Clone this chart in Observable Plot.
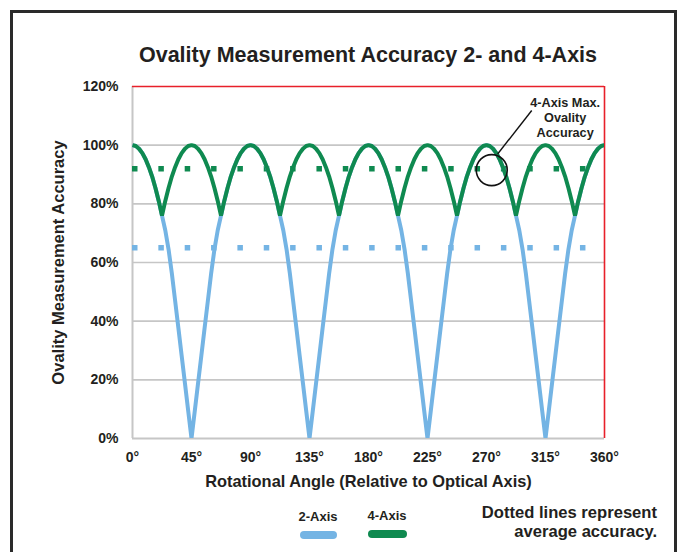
<!DOCTYPE html>
<html>
<head>
<meta charset="utf-8">
<script src="https://cdn.jsdelivr.net/npm/d3@7"></script>
<script src="https://cdn.jsdelivr.net/npm/@observablehq/plot@0.6"></script>
<style>
  html, body { margin: 0; padding: 0; background: #fff; }
  body { width: 681px; height: 552px; overflow: hidden; position: relative;
         font-family: "Liberation Sans", Arial, sans-serif; font-weight: bold; color: #231f20; }
  #frame { position: absolute; left: 10px; top: 10px; width: 661px; height: 620px;
           border: 3px solid #2a2a2a; box-sizing: content-box; }
  #title { position: absolute; left: 0; width: 736px; top: 42px; text-align: center;
           font-size: 21.5px; line-height: 26px; white-space: nowrap; }
  #chart { position: absolute; left: 0; top: 0; }
  .leg { position: absolute; font-size: 13px; text-align: center; width: 60px; line-height: 14px; }
  .sw { position: absolute; height: 8px; border-radius: 4px; }
  #note { position: absolute; right: 24px; top: 504px; text-align: right; font-size: 16.6px; line-height: 18.5px; white-space: nowrap; }
</style>
</head>
<body>
<div id="frame"></div>
<div id="title">Ovality Measurement Accuracy 2- and 4-Axis</div>
<div id="chart"></div>
<div class="leg" style="left:288px; top:510px;">2-Axis</div>
<div class="sw" style="left:300px; top:531px; width:37px; background:#74b4e4;"></div>
<div class="leg" style="left:357px; top:509px;">4-Axis</div>
<div class="sw" style="left:368px; top:530px; width:39px; background:#0f8a50;"></div>
<div id="note">Dotted lines represent<br>average accuracy.</div>
<script>
// Rotational angle (degrees)
const angles = [
  0,2.5,5,7.5,10,12.5,15,17.5,20,22.5,25,27.5,30,32.5,35,37.5,40,42.5,
  45,47.5,50,52.5,55,57.5,60,62.5,65,67.5,70,72.5,75,77.5,80,82.5,85,87.5,
  90,92.5,95,97.5,100,102.5,105,107.5,110,112.5,115,117.5,120,122.5,125,127.5,130,132.5,
  135,137.5,140,142.5,145,147.5,150,152.5,155,157.5,160,162.5,165,167.5,170,172.5,175,177.5,
  180,182.5,185,187.5,190,192.5,195,197.5,200,202.5,205,207.5,210,212.5,215,217.5,220,222.5,
  225,227.5,230,232.5,235,237.5,240,242.5,245,247.5,250,252.5,255,257.5,260,262.5,265,267.5,
  270,272.5,275,277.5,280,282.5,285,287.5,290,292.5,295,297.5,300,302.5,305,307.5,310,312.5,
  315,317.5,320,322.5,325,327.5,330,332.5,335,337.5,340,342.5,345,347.5,350,352.5,355,357.5,
  360
];
// 2-Axis accuracy (%)
const twoAxis = [
  100,99.7,98.8,97.3,95.2,92.5,89.3,85.4,81,76,71,64.5,56.3,47,37.7,28.2,18.8,9.4,
  0,9.4,18.8,28.2,37.7,47,56.3,64.5,71,76,81,85.4,89.3,92.5,95.2,97.3,98.8,99.7,
  100,99.7,98.8,97.3,95.2,92.5,89.3,85.4,81,76,71,64.5,56.3,47,37.7,28.2,18.8,9.4,
  0,9.4,18.8,28.2,37.7,47,56.3,64.5,71,76,81,85.4,89.3,92.5,95.2,97.3,98.8,99.7,
  100,99.7,98.8,97.3,95.2,92.5,89.3,85.4,81,76,71,64.5,56.3,47,37.7,28.2,18.8,9.4,
  0,9.4,18.8,28.2,37.7,47,56.3,64.5,71,76,81,85.4,89.3,92.5,95.2,97.3,98.8,99.7,
  100,99.7,98.8,97.3,95.2,92.5,89.3,85.4,81,76,71,64.5,56.3,47,37.7,28.2,18.8,9.4,
  0,9.4,18.8,28.2,37.7,47,56.3,64.5,71,76,81,85.4,89.3,92.5,95.2,97.3,98.8,99.7,
  100
];
// 4-Axis accuracy (%)
const fourAxis = [
  100,99.7,98.8,97.3,95.2,92.5,89.3,85.4,81,76,81,85.4,89.3,92.5,95.2,97.3,98.8,99.7,
  100,99.7,98.8,97.3,95.2,92.5,89.3,85.4,81,76,81,85.4,89.3,92.5,95.2,97.3,98.8,99.7,
  100,99.7,98.8,97.3,95.2,92.5,89.3,85.4,81,76,81,85.4,89.3,92.5,95.2,97.3,98.8,99.7,
  100,99.7,98.8,97.3,95.2,92.5,89.3,85.4,81,76,81,85.4,89.3,92.5,95.2,97.3,98.8,99.7,
  100,99.7,98.8,97.3,95.2,92.5,89.3,85.4,81,76,81,85.4,89.3,92.5,95.2,97.3,98.8,99.7,
  100,99.7,98.8,97.3,95.2,92.5,89.3,85.4,81,76,81,85.4,89.3,92.5,95.2,97.3,98.8,99.7,
  100,99.7,98.8,97.3,95.2,92.5,89.3,85.4,81,76,81,85.4,89.3,92.5,95.2,97.3,98.8,99.7,
  100,99.7,98.8,97.3,95.2,92.5,89.3,85.4,81,76,81,85.4,89.3,92.5,95.2,97.3,98.8,99.7,
  100
];
// Average accuracy (%)
const avgTwoAxis = 65;
const avgFourAxis = 92;
// Tick values
const xTicks = [0,45,90,135,180,225,270,315,360];
const yTicks = [0,20,40,60,80,100,120];
// Annotation
const annotation = "4-Axis Max.\nOvality\nAccuracy";

const BLUE = "#74b4e4", GREEN = "#0f8a50", RED = "#e8202a", GRID = "#c6c6c6", INK = "#231f20";
const rows = angles.map((a, i) => ({angle: a, two: twoAxis[i], four: fourAxis[i]}));

const chart = Plot.plot({
  width: 681, height: 552,
  marginLeft: 132, marginRight: 77, marginTop: 86, marginBottom: 114,
  x: {domain: [0, 360]},
  y: {domain: [0, 120]},
  style: {fontFamily: '"Liberation Sans", Arial, sans-serif', fontWeight: "bold", color: INK, background: "transparent", overflow: "visible"},
  marks: [
    Plot.gridY(yTicks.filter(d => d > 0 && d < 120), {stroke: GRID, strokeOpacity: 1, strokeWidth: 1.6}),
    Plot.ruleY([0], {stroke: GRID, strokeWidth: 2}),
    Plot.ruleX([0], {stroke: GRID, strokeWidth: 2}),
    Plot.ruleY([120], {stroke: RED, strokeWidth: 1.6}),
    Plot.ruleX([360], {stroke: RED, strokeWidth: 1.6}),
    Plot.axisY(yTicks, {tickSize: 0, tickPadding: 14, tickFormat: d => d + "%", fontSize: 14, label: null, fill: INK}),
    Plot.axisX(xTicks, {tickSize: 0, tickPadding: 14, tickFormat: d => d + "°", fontSize: 14, label: null, fill: INK}),
    Plot.ruleY([avgTwoAxis], {stroke: BLUE, strokeWidth: 5.5, strokeDasharray: "5.5 20.85"}),
    Plot.ruleY([avgFourAxis], {stroke: GREEN, strokeWidth: 5.5, strokeDasharray: "5.5 20.85"}),
    Plot.line(rows, {x: "angle", y: "two", stroke: BLUE, strokeWidth: 4, strokeLinejoin: "miter", strokeLinecap: "butt", clip: true}),
    Plot.line(rows, {x: "angle", y: "four", stroke: GREEN, strokeWidth: 4, strokeLinejoin: "miter", strokeLinecap: "butt", clip: true}),
    Plot.dot([{a: 274, v: 91.5}], {x: "a", y: "v", r: 15.5, stroke: "#111", strokeWidth: 1.6, fill: "none"}),
    Plot.link([{x1: 278.5, y1: 97, x2: 304.5, y2: 111.8}], {x1: "x1", y1: "y1", x2: "x2", y2: "y2", stroke: "#111", strokeWidth: 1.4}),
    Plot.text([annotation], {x: 330, y: 109.5, text: d => d, fontSize: 12.7, lineHeight: 1.15, fill: INK, fontWeight: "bold"}),
    Plot.text(["Ovality Measurement Accuracy"], {frameAnchor: "left", textAnchor: "middle", dx: -74, rotate: -90, fontSize: 16.5, fill: INK, fontWeight: "bold"}),
    Plot.text(["Rotational Angle (Relative to Optical Axis)"], {frameAnchor: "bottom", textAnchor: "middle", dy: 48, fontSize: 16.4, fill: INK, fontWeight: "bold"})
  ]
});
document.getElementById("chart").appendChild(chart);
</script>
</body>
</html>
